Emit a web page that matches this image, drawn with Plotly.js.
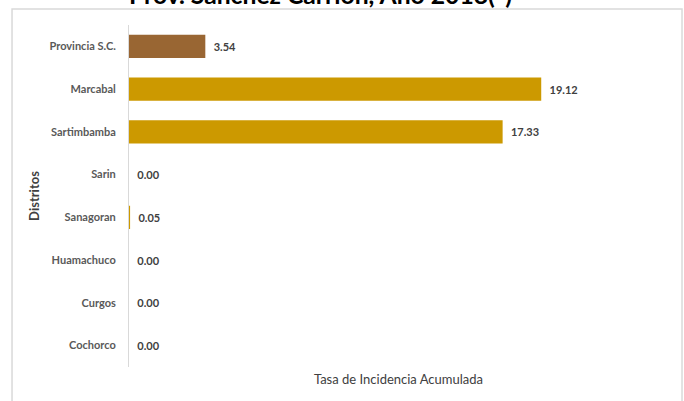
<!DOCTYPE html>
<html>
<head>
<meta charset="utf-8">
<script src="https://cdn.plot.ly/plotly-3.0.1.min.js"></script>
<style>html,body{margin:0;padding:0;background:#fff;}#chart{width:684px;height:401px;}</style>
</head>
<body>
<div id="chart"></div>
<script>
const categories = ["Provincia S.C.", "Marcabal", "Sartimbamba", "Sarin", "Sanagoran", "Huamachuco", "Curgos", "Cochorco"];
const values = [3.54, 19.12, 17.33, 0.00, 0.05, 0.00, 0.00, 0.00];
const barColors = ["#996633", "#CC9900", "#CC9900", "#CC9900", "#CC9900", "#CC9900", "#CC9900", "#CC9900"];
const titleText = "Prov. Sanchez Carrion, Año 2018(*)";
const xTitle = "Tasa de Incidencia Acumulada";
const yTitle = "Distritos";

const FONT = "Lato, 'Open Sans', sans-serif";

const trace = {
  type: "bar",
  orientation: "h",
  y: categories,
  x: values,
  width: 0.54,
  marker: {color: barColors, line: {width: 0}},
  texttemplate: "\u00a0\u00a0%{x:.2f}",
  textposition: "outside",
  cliponaxis: false,
  textfont: {family: FONT, size: 11, color: "#404040", weight: "bold"},
  hoverinfo: "skip"
};

const layout = {
  width: 684,
  height: 401,
  margin: {l: 129, r: 16, t: 25, b: 34},
  paper_bgcolor: "#ffffff",
  plot_bgcolor: "#ffffff",
  showlegend: false,
  annotations: [{
    text: titleText,
    font: {family: FONT, size: 24.7, color: "#000000", weight: "bold"},
    xref: "paper", yref: "paper",
    x: 0.3553, xanchor: "center",
    y: 1.088, yanchor: "middle",
    showarrow: false
  }],
  xaxis: {
    range: [0, 25],
    showgrid: false,
    zeroline: false,
    showline: false,
    showticklabels: false,
    ticks: "",
    title: {text: xTitle, font: {family: FONT, size: 13, color: "#404040"}, standoff: 7}
  },
  yaxis: {
    type: "category",
    autorange: "reversed",
    showgrid: false,
    zeroline: false,
    showline: true,
    linecolor: "#D9D9D9",
    linewidth: 1,
    ticks: "",
    ticklabelstandoff: 10,
    tickfont: {family: FONT, size: 11, color: "#595959", weight: "bold"},
    title: {text: yTitle, font: {family: FONT, size: 13, color: "#404040", weight: "bold"}, standoff: 6}
  },
  shapes: [{
    type: "rect", xref: "paper", yref: "paper",
    x0: -0.217, x1: 1.026, y0: -0.13, y1: 1.0468,
    line: {color: "#D9D9D9", width: 1.5},
    fillcolor: "rgba(0,0,0,0)",
    layer: "below"
  }]
};

Plotly.newPlot("chart", [trace], layout, {displayModeBar: false, staticPlot: true});
</script>
</body>
</html>
